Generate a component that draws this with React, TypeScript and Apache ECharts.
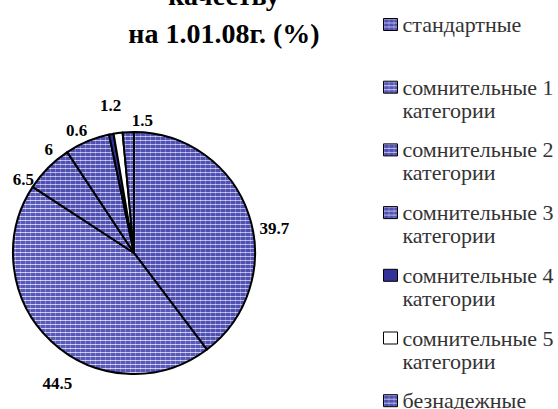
import React, { useEffect, useRef } from 'react';
import * as echarts from 'echarts';

const categories = [
  'стандартные',
  'сомнительные 1 категории',
  'сомнительные 2 категории',
  'сомнительные 3 категории',
  'сомнительные 4 категории',
  'сомнительные 5 категории',
  'безнадежные',
];
const values = [39.7, 44.5, 6.5, 6, 0.6, 1.2, 1.5];
const titleLines = ['качеству', 'на 1.01.08г. (%)'];

// label nudges (style only), relative to ECharts' outside label position
const labelNudge: [number, number][] = [
  [0, 16],
  [30, 38],
  [-5, 16],
  [-27, 14],
  [-18, 2],
  [9, -22],
  [30, -6],
];

const SERIF = 'Liberation Serif';

function makeTile(base: string, row: string, col: string, cross: string, w: number, h: number) {
  const c = document.createElement('canvas');
  c.width = w;
  c.height = h;
  const ctx = c.getContext('2d')!;
  ctx.fillStyle = base;
  ctx.fillRect(0, 0, w, h);
  ctx.fillStyle = col;
  ctx.fillRect(0, 0, 1, h);
  ctx.fillStyle = row;
  ctx.fillRect(0, 0, w, 1);
  ctx.fillStyle = cross;
  ctx.fillRect(0, 0, 1, 1);
  return { image: c.toDataURL(), repeat: 'repeat', imageWidth: w, imageHeight: h } as any;
}

export default function App() {
  const ref = useRef<HTMLDivElement>(null);
  useEffect(() => {
    if (!ref.current) return;
    const chart = echarts.init(ref.current, undefined, { renderer: 'svg' });
    const patA = makeTile('#5050b0', '#b8b8e8', '#7c7cc8', '#d4d4f2', 5, 4);
    const patB = makeTile('#5858b8', '#c8c8f0', '#8484cc', '#e0e0f6', 5, 4);
    const fills: any[] = [patA, patB, patA, patA, '#333399', '#ffffff', patA];
    const L = 23;
    chart.setOption({
      animation: false,
      graphic: [
        {
          type: 'text',
          x: 224,
          y: 14,
          style: {
            text: titleLines.join('\n'),
            align: 'center',
            verticalAlign: 'middle',
            fontFamily: SERIF,
            fontWeight: 'bold',
            fontSize: 28,
            lineHeight: 38,
            fill: '#000',
          },
        },
      ],
      legend: {
        orient: 'vertical',
        left: 383,
        top: 24.5 - 1.5 * L,
        height: 2000,
        padding: 0,
        itemGap: 62.7 - 3 * L,
        itemWidth: 14,
        itemHeight: 12,
        icon: 'rect',
        selectedMode: false,
        itemStyle: { borderColor: '#000', borderWidth: 1 },
        formatter: (name: string) =>
          name.indexOf(' категории') >= 0
            ? ' \n' + name.replace(' категории', '\nкатегории')
            : ' \n' + name + '\n ',
        textStyle: {
          fontFamily: SERIF,
          fontSize: 22,
          lineHeight: L,
          color: '#333',
        },
        data: categories,
      },
      series: [
        {
          type: 'pie',
          center: [134, 253],
          radius: 121,
          startAngle: 90,
          clockwise: true,
          avoidLabelOverlap: false,
          itemStyle: { borderColor: '#000', borderWidth: 2 },
          label: {
            show: true,
            position: 'outside',
            formatter: '{c}',
            fontFamily: SERIF,
            fontWeight: 'bold',
            fontSize: 17,
            color: '#000',
          },
          labelLine: { show: false, length: 6, length2: 0 },
          labelLayout: (p: any) => ({
            hideOverlap: false,
            dx: labelNudge[p.dataIndex][0],
            dy: labelNudge[p.dataIndex][1],
          }),
          emphasis: { disabled: true },
          data: categories.map((name, i) => ({
            name,
            value: values[i],
            itemStyle: { color: fills[i] },
          })),
        },
      ],
    });
    return () => chart.dispose();
  }, []);
  return (
    <div
      ref={ref}
      style={{ position: 'fixed', left: 0, top: 0, width: 558, height: 409, background: '#fff' }}
    />
  );
}
